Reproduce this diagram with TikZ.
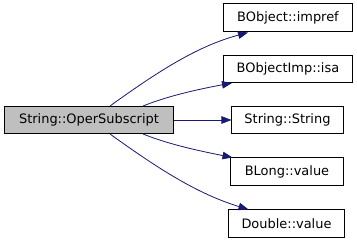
\documentclass[tikz,border=0pt]{standalone}
\usepackage{fontspec}
\setmainfont{DejaVu Sans}
\usetikzlibrary{arrows.meta,calc}
\definecolor{edgeblue}{HTML}{191970}
\definecolor{srcgray}{HTML}{BFBFBF}
\begin{document}
\begin{tikzpicture}[x=1bp,y=1bp,
  fnbox/.style={draw=black,line width=1bp,minimum height=27bp,inner sep=0pt,
    font=\fontsize{13}{15}\selectfont,anchor=center},
  srcbox/.style={fnbox,fill=srcgray},
  callarrow/.style={draw=edgeblue,line width=0.8bp,
    -{Triangle[length=10bp,width=7.5bp,fill=edgeblue]}}]
\useasboundingbox (0,0) rectangle (357,240);
\fill[white] (0,0) rectangle (357,240);
\node[srcbox,minimum width=168bp] (src) at (89,120) {String::OperSubscript};
\node[fnbox,minimum width=128bp,minimum height=28bp] (impref) at (288,222) {BObject::impref};
\node[fnbox,minimum width=128bp] (isa) at (288,171) {BObjectImp::isa};
\node[fnbox,minimum width=111bp] (str) at (287.5,120) {String::String};
\node[fnbox,minimum width=112bp] (blong) at (287,68.5) {BLong::value};
\node[fnbox,minimum width=115bp] (dbl) at (286.5,16.5) {Double::value};
\draw[callarrow] ([xshift=21bp]src.north) .. controls (160,170) and (198,194) .. ([xshift=-40bp]impref.south);
\draw[callarrow] ([xshift=54bp]src.north) .. controls (170,145) and (205,152) .. ([xshift=-56bp]isa.south);
\draw[callarrow] (src.east) -- (str.west);
\draw[callarrow] ([xshift=54bp]src.south) .. controls (170,95) and (205,88) .. ([xshift=2bp]blong.north west);
\draw[callarrow] ([xshift=21bp]src.south) .. controls (160,70) and (198,46) .. ([xshift=-38bp]dbl.north);
\end{tikzpicture}
\end{document}
